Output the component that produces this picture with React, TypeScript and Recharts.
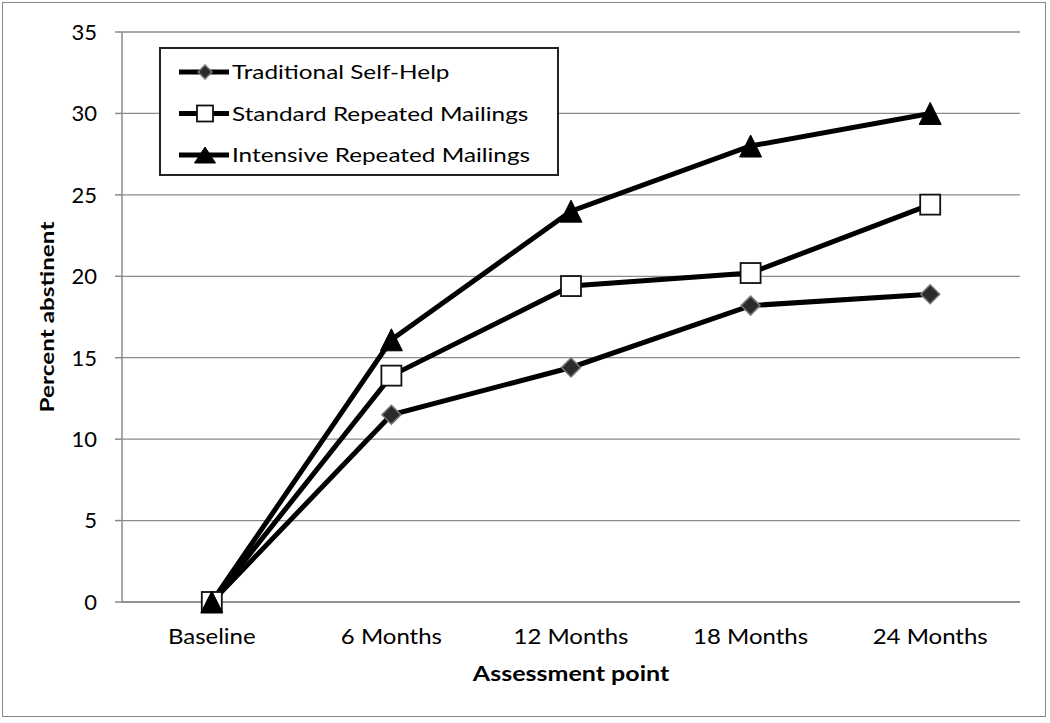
import React from 'react';
import { LineChart, Line, XAxis, YAxis, CartesianGrid, Legend } from 'recharts';

const categories = ['Baseline', '6 Months', '12 Months', '18 Months', '24 Months'];
const traditional = [0, 11.5, 14.4, 18.2, 18.9];
const standard = [0, 13.9, 19.4, 20.2, 24.4];
const intensive = [0, 16.1, 24.0, 28.0, 30.0];
const yTicks = [0, 5, 10, 15, 20, 25, 30, 35];
const edgeTicks = [0, 1, 2, 3, 4, 5];

const seriesNames = ['Traditional Self-Help', 'Standard Repeated Mailings', 'Intensive Repeated Mailings'];

const data = categories.map((c, i) => ({
  label: c,
  traditional: traditional[i],
  standard: standard[i],
  intensive: intensive[i],
}));

const FONT = 'Lato, "Open Sans", sans-serif';
const SX = 1.28;

const Diamond = (props: any) => {
  const { cx, cy, s = 9.5 } = props;
  if (cx == null || cy == null) return null;
  return (
    <path
      d={`M${cx},${cy - s} L${cx + s},${cy} L${cx},${cy + s} L${cx - s},${cy} Z`}
      fill="#2b2b2b"
      stroke="#777"
      strokeWidth={1.5}
    />
  );
};

const Square = (props: any) => {
  const { cx, cy, s = 10 } = props;
  if (cx == null || cy == null) return null;
  return <rect x={cx - s} y={cy - s} width={2 * s} height={2 * s} fill="#fff" stroke="#111" strokeWidth={1.8} />;
};

const Triangle = (props: any) => {
  const { cx, cy, w = 11, h = 11 } = props;
  if (cx == null || cy == null) return null;
  return (
    <path
      d={`M${cx},${cy - h} L${cx + w},${cy + h} L${cx - w},${cy + h} Z`}
      fill="#000"
      stroke="#000"
      strokeWidth={1}
    />
  );
};

const legendMarkers = [
  (cx: number, cy: number) => <Diamond cx={cx} cy={cy} s={7} />,
  (cx: number, cy: number) => <Square cx={cx} cy={cy} s={8} />,
  (cx: number, cy: number) => <Triangle cx={cx} cy={cy} w={10.5} h={8} />,
];

const renderLegend = () => (
  <svg width={400} height={129} style={{ display: 'block' }}>
    <rect x={1} y={1} width={398} height={127} fill="#fff" stroke="#222" strokeWidth={2} />
    {seriesNames.map((n, i) => {
      const cy = 25 + i * 41.5;
      return (
        <g key={n}>
          <line x1={20} y1={cy} x2={70} y2={cy} stroke="#000" strokeWidth={5} />
          {legendMarkers[i](46, cy)}
          <text
            transform={`translate(73,${cy}) scale(${SX},1)`}
            fontFamily={FONT}
            fontSize={19}
            fill="#000"
            dominantBaseline="central"
          >
            {n}
          </text>
        </g>
      );
    })}
  </svg>
);

const XTick = (props: any) => {
  const { x, y, payload } = props;
  return (
    <text
      transform={`translate(${x},${y + 41}) scale(1.17,1)`}
      textAnchor="middle"
      fontFamily={FONT}
      fontSize={20.5}
      fill="#000"
    >
      {payload.value}
    </text>
  );
};

const YTick = (props: any) => {
  const { x, y, payload } = props;
  return (
    <text x={x} y={y} dy="0.36em" textAnchor="end" fontFamily={FONT} fontSize={22} fill="#000">
      {payload.value}
    </text>
  );
};

const XTitle = (props: any) => {
  const vb = props.viewBox || {};
  return (
    <text
      transform={`translate(${vb.x + vb.width / 2},${vb.y + 78}) scale(1.22,1)`}
      textAnchor="middle"
      fontFamily={FONT}
      fontSize={20.5}
      fontWeight="bold"
      fill="#000"
    >
      Assessment point
    </text>
  );
};

const YTitle = (props: any) => {
  const vb = props.viewBox || {};
  return (
    <text
      transform={`translate(${vb.x + 25},${vb.y + vb.height / 2}) rotate(-90) scale(${SX},1)`}
      textAnchor="middle"
      dominantBaseline="central"
      fontFamily={FONT}
      fontSize={19}
      fontWeight="bold"
      fill="#000"
    >
      Percent abstinent
    </text>
  );
};

export default function App() {
  return (
    <div style={{ position: 'absolute', left: 0, top: 0, width: 1050, height: 723, background: '#fff' }}>
      <div
        style={{
          position: 'absolute',
          left: 2,
          top: 2,
          width: 1042,
          height: 713,
          border: '1.5px solid #888',
        }}
      />
      <div style={{ position: 'absolute', left: 0, top: 0 }}>
        <LineChart
          width={1050}
          height={723}
          data={data}
          margin={{ top: 32, right: 30, left: 22, bottom: 30 }}
        >
          <CartesianGrid vertical={false} stroke="#8a8a8a" strokeWidth={1.3} />
          <XAxis
            xAxisId="b"
            dataKey="label"
            type="category"
            scale="band"
            height={90}
            axisLine={false}
            tickLine={false}
            tickSize={0}
            tickMargin={0}
            interval={0}
            tick={<XTick />}
            label={(p: any) => <XTitle {...p} />}
          />
          <XAxis
            xAxisId="a"
            type="number"
            domain={[0, 5]}
            ticks={edgeTicks}
            tick={false}
            tickSize={8}
            height={1}
            axisLine={{ stroke: '#8a8a8a', strokeWidth: 1.5 }}
            tickLine={{ stroke: '#8a8a8a', strokeWidth: 1.5 }}
          />
          <YAxis
            type="number"
            domain={[0, 35]}
            ticks={yTicks}
            width={100}
            tickSize={7}
            tickMargin={18}
            axisLine={{ stroke: '#8a8a8a', strokeWidth: 1.5 }}
            tickLine={{ stroke: '#8a8a8a', strokeWidth: 1.5 }}
            tick={<YTick />}
            label={(p: any) => <YTitle {...p} />}
          />
          <Legend
            verticalAlign="middle"
            align="center"
            layout="vertical"
            content={renderLegend}
            wrapperStyle={{ position: 'absolute', left: 159, top: 47, width: 400, height: 129 }}
          />
          <Line
            xAxisId="b"
            dataKey="traditional"
            name={seriesNames[0]}
            stroke="#000"
            strokeWidth={5}
            dot={(p: any) => <Diamond key={`d${p.index}`} cx={p.cx} cy={p.cy} />}
            isAnimationActive={false}
          />
          <Line
            xAxisId="b"
            dataKey="standard"
            name={seriesNames[1]}
            stroke="#000"
            strokeWidth={5}
            dot={(p: any) => <Square key={`s${p.index}`} cx={p.cx} cy={p.cy} />}
            isAnimationActive={false}
          />
          <Line
            xAxisId="b"
            dataKey="intensive"
            name={seriesNames[2]}
            stroke="#000"
            strokeWidth={5}
            dot={(p: any) => <Triangle key={`t${p.index}`} cx={p.cx} cy={p.cy} />}
            isAnimationActive={false}
          />
        </LineChart>
      </div>
    </div>
  );
}
